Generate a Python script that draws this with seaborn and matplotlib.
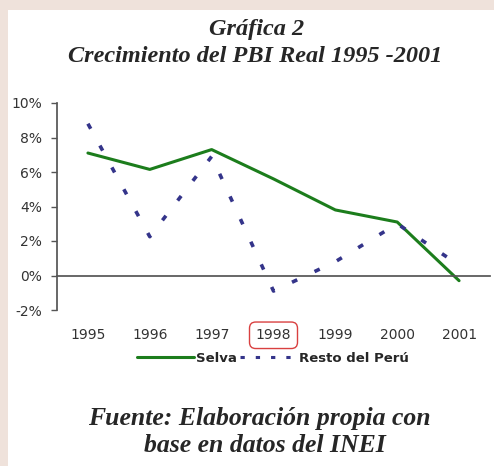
import matplotlib
matplotlib.use("Agg")
import matplotlib.pyplot as plt
import seaborn as sns
import pandas as pd
from matplotlib.lines import Line2D
from matplotlib.patches import Rectangle
from matplotlib.ticker import FixedLocator, PercentFormatter

years = ["1995", "1996", "1997", "1998", "1999", "2000", "2001"]
selva = [7.1, 6.15, 7.3, 5.6, 3.8, 3.1, -0.3]
resto = [8.8, 2.25, 6.9, -0.9, 0.8, 3.0, 0.6]
y_ticks = [-2, 0, 2, 4, 6, 8, 10]

sns.set_theme(style="white")
plt.rcParams["font.family"] = ["DejaVu Sans"]
plt.rcParams["axes.unicode_minus"] = False

GREEN = "#1c7d1c"
NAVY = "#34348a"

pos = list(range(len(years)))
df = pd.DataFrame({"pos": pos * 2, "val": selva + resto,
                   "serie": ["Selva"] * len(years) + ["Resto del Perú"] * len(years)})

fig = plt.figure(figsize=(4.94, 4.66), dpi=100)
fig.patch.set_facecolor("#efe2db")
fig.add_artist(Rectangle((8 / 494, 0), 1, 1 - 10 / 466, transform=fig.transFigure,
                         facecolor="white", edgecolor="none", zorder=0))

ax = fig.add_axes([57 / 494, 1 - 310 / 466, (490 - 57) / 494, (310 - 103) / 466])
ax.set_facecolor("none")

sns.lineplot(data=df[df.serie == "Selva"], x="pos", y="val", ax=ax,
             color=GREEN, linewidth=2.2, legend=False)
sns.lineplot(data=df[df.serie == "Resto del Perú"], x="pos", y="val", ax=ax,
             color=NAVY, linewidth=2.6, legend=False)
ax.lines[1].set_dashes([1.6, 5.3])

ax.set_xlim(-0.5, len(years) - 0.5)
ax.set_ylim(-2, 10)
ax.set_yticks(y_ticks)
ax.yaxis.set_major_formatter(PercentFormatter(decimals=0))
ax.set_xlabel("")
ax.set_ylabel("")

for s in ["top", "right"]:
    ax.spines[s].set_visible(False)
ax.spines["left"].set_color("#555555")
ax.spines["bottom"].set_color("#555555")
ax.spines["bottom"].set_position(("data", 0))

ax.set_xticks(pos)
ax.set_xticklabels(years)
ax.xaxis.set_minor_locator(FixedLocator([p + 0.5 for p in pos]))
ax.tick_params(axis="x", which="major", length=0, pad=38, labelsize=10, labelcolor="#333333")
ax.tick_params(axis="x", which="minor", length=4, width=1, color="#555555", direction="out")
ax.tick_params(axis="y", which="major", length=4, width=1, color="#555555", direction="out",
               left=True, labelsize=10, labelcolor="#333333", pad=7)
for lbl in ax.get_xticklabels():
    if lbl.get_text() == "1998":
        lbl.set_bbox(dict(boxstyle="round,pad=0.45", facecolor="none", edgecolor="#d94040", linewidth=1))

handles = [Line2D([], [], color=GREEN, linewidth=2.2),
           Line2D([], [], color=NAVY, linewidth=2.2, dashes=[1.4, 3.6])]
fig.legend(handles, ["Selva", "Resto del Perú"], loc="center", bbox_to_anchor=(273 / 494, 1 - 358 / 466),
           ncol=2, frameon=False, handlelength=4.3, columnspacing=0.3, handletextpad=0.15,
           prop={"family": "DejaVu Sans", "weight": "bold", "size": 9.5})

fig.text(257 / 494, 1 - 29 / 466, "Gráfica 2", ha="center", va="center",
         family="Liberation Serif", style="italic", weight="bold", size=17.5)
fig.text(255 / 494, 1 - 56 / 466, "Crecimiento del PBI Real 1995 -2001", ha="center", va="center",
         family="Liberation Serif", style="italic", weight="bold", size=17.5)
fig.text(259 / 494, 1 - 419 / 466, "Fuente: Elaboración propia con", ha="center", va="center",
         family="Liberation Serif", style="italic", weight="bold", size=18.5)
fig.text(265 / 494, 1 - 445 / 466, "base en datos del INEI", ha="center", va="center",
         family="Liberation Serif", style="italic", weight="bold", size=18.5)

fig.savefig("out.png", dpi=100)
